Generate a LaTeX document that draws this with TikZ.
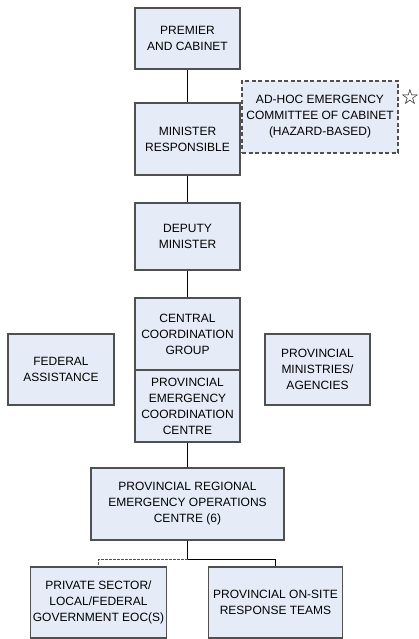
\documentclass[tikz,border=0pt]{standalone}
\usepackage{fontspec}
\setmainfont{Liberation Sans}
\newfontfamily\symfont{DejaVu Sans}
\definecolor{boxfill}{HTML}{E6ECF7}
\definecolor{boxline}{HTML}{505050}

\begin{document}
\begin{tikzpicture}[x=1pt, y=-1pt, thick,
  unit/.style = {draw=boxline, fill=boxfill, line width=1.1pt, align=center,
    inner sep=0pt, font=\fontsize{12}{16}\selectfont},
  link/.style = {draw=black, line width=0.8pt}]
	\useasboundingbox (0,0) rectangle (419,639);
	\node[unit, minimum width=105pt, minimum height=61pt] (premier) at (187.5,38.5) {PREMIER\\AND CABINET};
	\node[unit, minimum width=105pt, minimum height=72pt] (minister) at (187.5,139) {MINISTER\\RESPONSIBLE};
	\node[unit, dash pattern=on 4pt off 2.5pt, minimum width=156pt, minimum height=72pt] (adhoc) at (320,117) {AD-HOC EMERGENCY\\COMMITTEE OF CABINET\\(HAZARD-BASED)};
	\node[inner sep=0pt, font=\symfont\fontsize{21}{21}\selectfont] (star) at (410,97) {☆};
	\node[unit, minimum width=105pt, minimum height=67pt] (deputy) at (187.5,236.5) {DEPUTY\\MINISTER};
	\node[unit, minimum width=105pt, minimum height=72pt] (ccg) at (187.5,334) {CENTRAL\\COORDINATION\\GROUP};
	\node[unit, minimum width=105pt, minimum height=72pt] (peoc) at (187.5,406) {PROVINCIAL\\EMERGENCY\\COORDINATION\\CENTRE};
	\node[unit, minimum width=106pt, minimum height=71pt] (federal) at (61,369.5) {FEDERAL\\ASSISTANCE};
	\node[unit, minimum width=105pt, minimum height=71pt] (ministries) at (317.5,369.5) {PROVINCIAL\\MINISTRIES/\\AGENCIES};
	\node[unit, minimum width=193pt, minimum height=72pt] (preoc) at (187.5,504) {PROVINCIAL REGIONAL\\EMERGENCY OPERATIONS\\CENTRE (6)};
	\node[unit, minimum width=136pt, minimum height=71pt] (private) at (98.5,602.5) {PRIVATE SECTOR/\\LOCAL/FEDERAL\\GOVERNMENT EOC(S)};
	\node[unit, minimum width=134pt, minimum height=71pt] (onsite) at (275.5,602.5) {PROVINCIAL ON-SITE\\RESPONSE TEAMS};
	\coordinate (fork) at (187.5,559);

	\draw[link] (premier) -- (minister);
	\draw[link] (minister) -- (deputy);
	\draw[link] (deputy) -- (ccg);
	\draw[link] (peoc) -- (preoc);
	\draw[link] (preoc) -- (fork);
	\draw[link] (fork) -| (onsite);
	\draw[link, draw=boxline, dash pattern=on 2.5pt off 1.5pt] (fork) -| (private);
\end{tikzpicture}
\end{document}
